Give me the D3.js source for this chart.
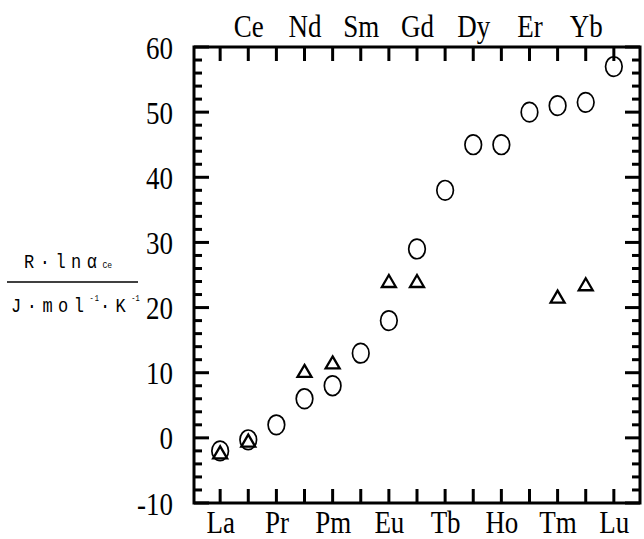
<!DOCTYPE html>
<html><head><meta charset="utf-8">
<script src="https://cdn.jsdelivr.net/npm/d3@7"></script>
<style>body{margin:0;background:#fff}svg{display:block}</style>
</head><body>
<svg id="c" width="644" height="539"></svg>
<script>
const elements = ["La","Ce","Pr","Nd","Pm","Sm","Eu","Gd","Tb","Dy","Ho","Er","Tm","Yb","Lu"];
const circleEls = ["La","Ce","Pr","Nd","Pm","Sm","Eu","Gd","Tb","Dy","Ho","Er","Tm","Yb","Lu"];
const circleVals = [-2, -0.3, 2, 6, 8, 13, 18, 29, 38, 45, 45, 50, 51, 51.5, 57];
const triEls = ["La","Ce","Nd","Pm","Eu","Gd","Tm","Yb"];
const triVals = [-2.3, -0.5, 10.2, 11.5, 24, 24, 21.6, 23.5];
const yMajor = [-10, 0, 10, 20, 30, 40, 50, 60];
const yMinor = d3.range(-10, 61, 2).filter(v => v % 10 !== 0);

const svg = d3.select("#c");
const L = 194, R = 640, T = 47, B = 503;
const xs = d3.scaleLinear().domain([-0.93, 14.93]).range([L, R]);
const ys = d3.scaleLinear().domain([-10, 60]).range([B, T]);
const idx = e => elements.indexOf(e);
const font = "'Liberation Serif', 'Times New Roman', serif";
const SY = 1.15;

function styleAxis(g, tx, ty, anchor){
  g.select(".domain").remove();
  g.selectAll(".tick line").remove();
  g.selectAll(".tick text")
    .attr("x", null).attr("y", null).attr("dy", null)
    .attr("text-anchor", anchor)
    .attr("transform", `translate(${tx},${ty}) scale(1,${SY})`)
    .attr("font-family", font).attr("font-size", 27).attr("fill", "#000");
}
svg.append("g").attr("transform", `translate(0,${B})`)
  .call(d3.axisBottom(xs).tickValues(d3.range(15)).tickFormat(i => i % 2 === 0 ? elements[i] : ""))
  .call(g => styleAxis(g, 0, 30, "middle"));
svg.append("g").attr("transform", `translate(0,${T})`)
  .call(d3.axisTop(xs).tickValues(d3.range(15)).tickFormat(i => i % 2 === 1 ? elements[i] : ""))
  .call(g => styleAxis(g, 0, -10, "middle"));
svg.append("g").attr("transform", `translate(${L},0)`)
  .call(d3.axisLeft(ys).tickValues(yMajor).tickFormat(d3.format("d")))
  .call(g => styleAxis(g, -21, 11, "end"));
svg.selectAll("text").text(function(){ return d3.select(this).text().replace("\u2212", "-"); });

// frame
svg.append("rect").attr("x", L).attr("y", T).attr("width", R - L).attr("height", B - T)
  .attr("fill", "none").attr("stroke", "#000").attr("stroke-width", 3);

// tick marks (inward)
const xTickVals = d3.range(15);
const yTicks = yMajor.map(v => ({v, len: 15})).concat(yMinor.map(v => ({v, len: 8})));
const tk = svg.append("g").attr("class", "tickmarks");
tk.selectAll("line.xb").data(xTickVals).join("line").attr("class", "xb")
  .attr("x1", d => xs(d)).attr("x2", d => xs(d)).attr("y1", B).attr("y2", B - 14)
  .attr("stroke", "#000").attr("stroke-width", 3);
tk.selectAll("line.xt").data(xTickVals).join("line").attr("class", "xt")
  .attr("x1", d => xs(d)).attr("x2", d => xs(d)).attr("y1", T).attr("y2", T + 14)
  .attr("stroke", "#000").attr("stroke-width", 3);
tk.selectAll("line.yl").data(yTicks).join("line").attr("class", "yl")
  .attr("x1", L).attr("x2", d => L + d.len).attr("y1", d => ys(d.v)).attr("y2", d => ys(d.v))
  .attr("stroke", "#000").attr("stroke-width", 3);
tk.selectAll("line.yr").data(yTicks).join("line").attr("class", "yr")
  .attr("x1", R).attr("x2", d => R - d.len).attr("y1", d => ys(d.v)).attr("y2", d => ys(d.v))
  .attr("stroke", "#000").attr("stroke-width", 3);

// circles
svg.append("g").selectAll("ellipse").data(circleEls.map((e, i) => ({e, v: circleVals[i]})))
  .join("ellipse")
  .attr("cx", d => xs(idx(d.e))).attr("cy", d => ys(d.v))
  .attr("rx", 8.3).attr("ry", 9.8)
  .attr("fill", "none").attr("stroke", "#000").attr("stroke-width", 1.7);

// triangles
svg.append("g").selectAll("path").data(triEls.map((e, i) => ({e, v: triVals[i]})))
  .join("path")
  .attr("transform", d => `translate(${xs(idx(d.e))},${ys(d.v)})`)
  .attr("d", "M0,-6.5L7,5.5L-7,5.5Z")
  .attr("fill", "none").attr("stroke", "#000").attr("stroke-width", 2.3);

// y label fraction
const mono = "'Liberation Mono', 'DejaVu Sans Mono', monospace";
const lab = svg.append("g").attr("font-family", mono).attr("fill", "#000");
const t1 = lab.append("text").attr("transform", "translate(24,268) scale(1,1.2)").attr("font-size", 17);
t1.append("tspan").text("R·lnα").attr("letter-spacing", 5.5);
t1.append("tspan").text("Ce").attr("font-size", 8);
lab.append("line").attr("x1", 7).attr("x2", 138).attr("y1", 282).attr("y2", 282)
  .attr("stroke", "#000").attr("stroke-width", 1.3);
const t2 = lab.append("text").attr("transform", "translate(11,312) scale(1,1.2)").attr("font-size", 17);
t2.append("tspan").text("J·mol").attr("letter-spacing", 5.5);
t2.append("tspan").text("-1").attr("font-size", 7).attr("dy", -9).attr("letter-spacing", 1);
t2.append("tspan").text("·K").attr("font-size", 17).attr("dy", 9).attr("letter-spacing", 5.5);
t2.append("tspan").text("-1").attr("font-size", 7).attr("dy", -9);
</script>
</body></html>
